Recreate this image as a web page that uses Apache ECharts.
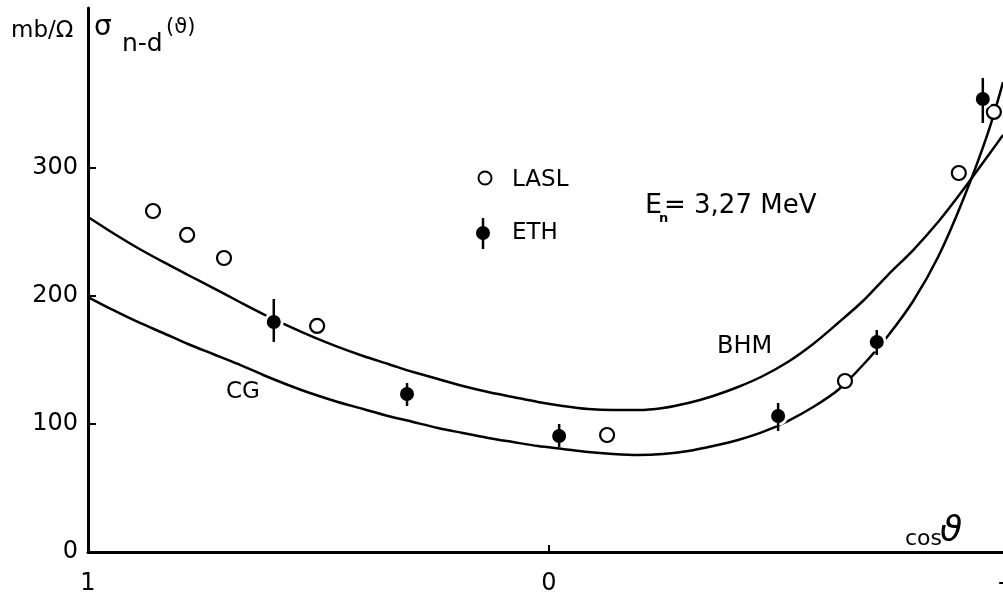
<!DOCTYPE html>
<html><head><meta charset="utf-8">
<script src="https://cdn.jsdelivr.net/npm/echarts@6/dist/echarts.min.js"></script>
<style>html,body{margin:0;padding:0;background:#fff}#c{width:1003px;height:598px}</style>
</head><body><div id="c"></div>
<script>
// ---- data ----
const xTickLabels = [1, 0, -1];
const yTickLabels = [0, 100, 200, 300];

const laslCos   = [0.859, 0.785, 0.705, 0.503, -0.126, -0.642, -0.889, -0.965];
const laslSigma = [266.4, 247.7, 229.7, 176.6, 91.4, 133.6, 296.1, 343.8];

const ethCos   = [0.597, 0.308, -0.022, -0.497, -0.711, -0.941];
const ethSigma = [179.7, 123.4, 90.6, 106.3, 164.1, 353.9];
const ethLow   = [164.1, 114.1, 82.0, 94.5, 153.9, 335.2];
const ethHigh  = [197.7, 132.0, 100.0, 116.4, 173.4, 370.3];

const curveCos = [1.000, 0.946, 0.892, 0.837, 0.783, 0.729, 0.675, 0.620, 0.566, 0.512,
                  0.458, 0.403, 0.349, 0.295, 0.241, 0.187, 0.132, 0.078, 0.024, -0.030,
                  -0.085, -0.139, -0.193, -0.247, -0.302, -0.356, -0.410, -0.464, -0.518, -0.573,
                  -0.627, -0.681, -0.735, -0.790, -0.844, -0.898, -0.952, -0.985];
const bhmSigma = [261.7, 249.2, 237.5, 226.6, 216.4, 206.3, 196.1, 185.9, 176.6, 168.0,
                  160.2, 153.1, 146.9, 140.6, 135.2, 129.7, 125.0, 121.1, 117.2, 114.1,
                  111.7, 110.9, 110.9, 112.5, 116.4, 121.9, 128.9, 137.5, 148.4, 162.5,
                  178.9, 196.1, 216.4, 235.9, 257.8, 282.8, 309.4, 325.8];
const cgSigma  = [199.2, 189.1, 179.7, 171.1, 162.5, 154.7, 146.9, 138.3, 130.5, 123.4,
                  117.2, 111.7, 106.3, 101.6, 96.9, 93.0, 89.1, 85.9, 82.8, 80.5,
                  78.1, 76.6, 75.8, 76.6, 78.9, 82.8, 87.5, 93.8, 102.3, 113.3,
                  126.6, 146.1, 168.8, 196.1, 230.5, 275.0, 327.3, 367.2];

// ---- chart ----
const F = "'DejaVu Sans', sans-serif";
const zip = (a, b) => a.map((v, i) => [v, b[i]]);
const chart = echarts.init(document.getElementById('c'), null, {renderer: 'canvas'});

function txt(x, y, text, font) {
  return {
    type: 'text', x: x, y: y, z: 100,
    style: {text: text, font: font + ' ' + F, fill: '#000', textAlign: 'left', textVerticalAlign: 'middle'}
  };
}

chart.setOption({
  animation: false,
  backgroundColor: '#fff',
  grid: {left: 88, width: 922, top: 8, height: 544, containLabel: false, outerBoundsMode: 'none'},
  xAxis: {
    type: 'value', inverse: true, min: -1, max: 1,
    axisLine: {show: true, lineStyle: {color: '#000', width: 3}},
    axisTick: {show: true, inside: true, length: 7, customValues: [0], lineStyle: {color: '#000', width: 2}},
    axisLabel: {show: true, customValues: xTickLabels, color: '#000', fontFamily: F, fontSize: 24, margin: 20},
    splitLine: {show: false}
  },
  yAxis: {
    type: 'value', min: 0, max: 425,
    axisLine: {show: true, onZero: false, lineStyle: {color: '#000', width: 3}},
    axisTick: {show: true, inside: true, length: 8, customValues: [100, 200, 300], lineStyle: {color: '#000', width: 2}},
    axisLabel: {show: true, customValues: yTickLabels, color: '#000', fontFamily: F, fontSize: 24, margin: 10},
    splitLine: {show: false}
  },
  series: [
    {name: 'BHM', type: 'line', data: zip(curveCos, bhmSigma), smooth: 0.3, showSymbol: false, symbol: 'none',
     lineStyle: {color: '#000', width: 2.5}, z: 1},
    {name: 'CG', type: 'line', data: zip(curveCos, cgSigma), smooth: 0.3, showSymbol: false, symbol: 'none',
     lineStyle: {color: '#000', width: 2.5}, z: 1},
    {name: 'LASL', type: 'scatter', data: zip(laslCos, laslSigma), symbol: 'circle', symbolSize: 14,
     itemStyle: {color: '#fff', borderColor: '#000', borderWidth: 2.2, opacity: 1}, z: 3},
    {name: 'ETH', type: 'scatter', data: zip(ethCos, ethSigma), symbol: 'circle', symbolSize: 17,
     itemStyle: {color: '#000', borderColor: '#fff', borderWidth: 3, opacity: 1}, z: 3},
    {name: 'ETH error', type: 'custom', z: 4,
     data: ethCos.map((c, i) => [c, ethLow[i], ethHigh[i]]),
     encode: {x: 0, y: [1, 2]},
     renderItem: function (params, api) {
       const p1 = api.coord([api.value(0), api.value(1)]);
       const p2 = api.coord([api.value(0), api.value(2)]);
       return {type: 'line', shape: {x1: p1[0], y1: p1[1], x2: p2[0], y2: p2[1]},
               style: {stroke: '#000', lineWidth: 2.5}};
     }}
  ],
  graphic: [
    // axis titles
    txt(11, 31, 'mb/Ω', '23px'),
    txt(94, 28, 'σ', '28px'),
    txt(122, 44, 'n-d', '25px'),
    txt(166, 28, '(ϑ)', '21px'),
    txt(905, 539, 'cos', '22px'),
    txt(940, 532, 'ϑ', 'italic 36px'),
    // legend
    {type: 'circle', shape: {cx: 485, cy: 178, r: 6.5}, style: {fill: '#fff', stroke: '#000', lineWidth: 2}, z: 100},
    txt(512, 180, 'LASL', '23px'),
    {type: 'circle', shape: {cx: 483, cy: 233, r: 7}, style: {fill: '#000'}, z: 100},
    {type: 'line', shape: {x1: 483, y1: 218, x2: 483, y2: 249}, style: {stroke: '#000', lineWidth: 2.5}, z: 100},
    txt(512, 233, 'ETH', '23px'),
    // energy annotation
    txt(645, 206, 'E', '27px'),
    txt(659, 219, 'n', 'bold 13px'),
    txt(664, 206, '= 3,27 MeV', '26px'),
    // curve labels
    txt(717, 347, 'BHM', '24px'),
    txt(226, 392, 'CG', '23px')
  ]
});
</script>
</body></html>
